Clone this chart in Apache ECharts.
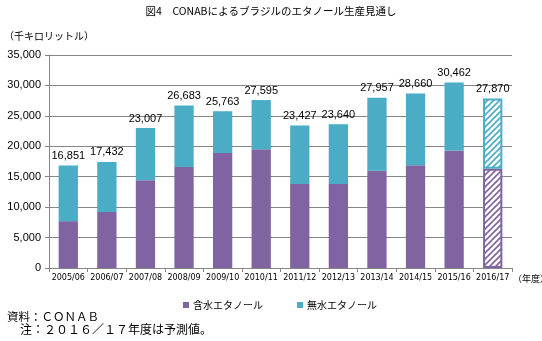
<!DOCTYPE html>
<html><head><meta charset="utf-8">
<script src="https://cdn.jsdelivr.net/npm/echarts@6/dist/echarts.min.js"></script>
<style>html,body{margin:0;padding:0;background:#fff}#c{width:542px;height:341px}</style>
</head><body><div id="c"></div>
<script>
var categories = ['2005/06','2006/07','2007/08','2008/09','2009/10','2010/11','2011/12','2012/13','2013/14','2014/15','2015/16','2016/17'];
var totals = [16851,17432,23007,26683,25763,27595,23427,23640,27957,28660,30462,27870];
var hydrous = [7700,9200,14400,16600,18900,19500,13800,13800,16000,16900,19300,16300];
var anhydrous = totals.map(function(t,i){return t-hydrous[i];});
var yTicks = {min:0, max:35000, interval:5000};

var purple = '#8064A2', teal = '#4BACC6';
function hatch(col){
  var c = document.createElement('canvas'); c.width = 6; c.height = 6;
  var g = c.getContext('2d');
  g.fillStyle = '#fff'; g.fillRect(0,0,6,6);
  g.strokeStyle = col; g.lineWidth = 1.6;
  g.beginPath(); g.moveTo(0,6); g.lineTo(6,0); g.stroke();
  g.beginPath(); g.moveTo(-3,3); g.lineTo(3,-3); g.stroke();
  g.beginPath(); g.moveTo(3,9); g.lineTo(9,3); g.stroke();
  return {image:c, repeat:'repeat'};
}
var last = categories.length-1;
var hydData = hydrous.map(function(v,i){
  return i===last ? {value:v, itemStyle:{color:hatch(purple), borderColor:purple, borderWidth:2}} : v;
});
var anhData = anhydrous.map(function(v,i){
  return i===last ? {value:v, itemStyle:{color:hatch(teal), borderColor:teal, borderWidth:2}} : v;
});
var font = '"Noto Sans CJK JP", sans-serif';
var chart = echarts.init(document.getElementById('c'));
chart.setOption({
  animation:false,
  textStyle:{fontFamily:font},
  grid:{left:49, right:30, top:55, bottom:73},
  legend:{data:['含水エタノール','無水エタノール'], left:178, top:295, icon:'rect', itemWidth:6, itemHeight:6, itemGap:34, itemStyle:{borderWidth:0},
    textStyle:{fontSize:10, color:'#000', fontFamily:font, padding:[0,0,0,-1]}},
  graphic:[
    {type:'text', left:'center', top:6, style:{text:'図4　CONABによるブラジルのエタノール生産見通し', fontSize:10.5, fill:'#000', fontFamily:font}},
    {type:'text', left:4, top:31, style:{text:'（千キロリットル）', fontSize:10, fill:'#000', fontFamily:font}},
    {type:'text', left:513, top:274, style:{text:'（年度）', fontSize:9, fill:'#000', fontFamily:font}},
    {type:'text', left:7, top:311, style:{text:'資料：ＣＯＮＡＢ', fontSize:11.5, fill:'#000', fontFamily:font}},
    {type:'text', left:20, top:323, style:{text:'注：２０１６／１７年度は予測値。', fontSize:12, fill:'#000', fontFamily:font}}
  ],
  xAxis:{type:'category', data:categories,
    axisLine:{lineStyle:{color:'#868686'}},
    axisTick:{show:true, length:4, lineStyle:{color:'#868686'}},
    axisLabel:{interval:0, fontSize:8, color:'#000', margin:6, fontFamily:'"DejaVu Sans", sans-serif'}},
  yAxis:{type:'value', min:yTicks.min, max:yTicks.max, interval:yTicks.interval,
    axisLine:{show:true, lineStyle:{color:'#868686'}},
    axisTick:{show:true, length:4, lineStyle:{color:'#868686'}},
    splitLine:{lineStyle:{color:'#868686'}},
    axisLabel:{fontSize:11, color:'#000', margin:8, fontFamily:'"Liberation Sans", sans-serif',
      formatter:function(v){return v.toLocaleString('en-US');}}},
  series:[
    {name:'含水エタノール', type:'bar', stack:'a', barWidth:'50%', itemStyle:{color:purple}, data:hydData},
    {name:'無水エタノール', type:'bar', stack:'a', barWidth:'50%', itemStyle:{color:teal}, data:anhData,
      label:{show:true, position:'top', distance:4, fontSize:11, color:'#000', fontFamily:'"Liberation Sans", sans-serif',
        formatter:function(p){return totals[p.dataIndex].toLocaleString('en-US');}}}
  ]
});
</script></body></html>
